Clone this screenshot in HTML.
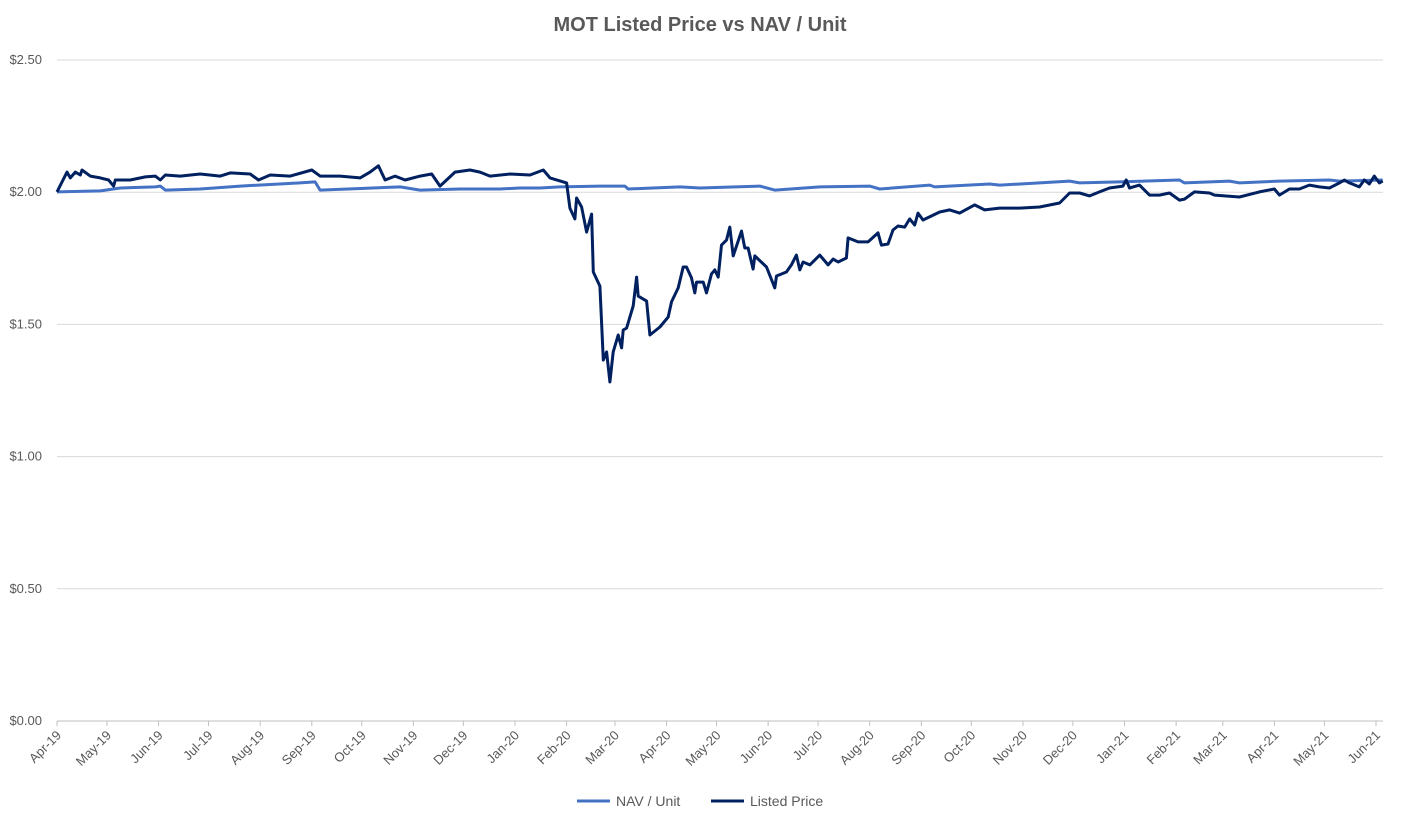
<!DOCTYPE html>
<html><head><meta charset="utf-8"><style>
body{margin:0;background:#fff;}
svg{display:block;font-family:"Liberation Sans",sans-serif;}
</style></head><body>
<svg id="chart" width="1403" height="819">
<text x="700" y="31" text-anchor="middle" font-size="20" font-weight="bold" fill="#595959">MOT Listed Price vs NAV / Unit</text>
<g id="grid"></g><g id="xaxis"></g><g id="series"></g>
<g>
<line x1="577" y1="801" x2="610" y2="801" stroke="#4472C4" stroke-width="3"/>
<text x="616" y="806" font-size="14" fill="#595959">NAV / Unit</text>
<line x1="711" y1="801" x2="744" y2="801" stroke="#002060" stroke-width="3"/>
<text x="750" y="806" font-size="14" fill="#595959">Listed Price</text>
</g>
</svg>
<script>
const yTicks=[0,0.5,1,1.5,2,2.5];
const yTickLabels=["$0.00","$0.50","$1.00","$1.50","$2.00","$2.50"];
const monthLabels=["Apr-19","May-19","Jun-19","Jul-19","Aug-19","Sep-19","Oct-19","Nov-19","Dec-19","Jan-20","Feb-20","Mar-20","Apr-20","May-20","Jun-20","Jul-20","Aug-20","Sep-20","Oct-20","Nov-20","Dec-20","Jan-21","Feb-21","Mar-21","Apr-21","May-21","Jun-21"];
// day offsets from 1 Apr 2019
const listedDays=[0,6,8,11,14,15,20,26,31,34,35,44,53,59,62,65,74,86,98,104,116,121,128,140,153,158,170,182,188,193,197,203,209,218,225,230,239,248,254,260,272,284,292,296,306,308,311,312,315,318,321,322,326,328,330,332,334,337,339,340,342,346,348,349,354,356,362,367,369,373,376,378,381,383,384,388,390,393,395,397,399,402,404,406,411,413,415,418,419,426,431,432,438,441,444,446,448,452,458,463,466,469,474,475,481,487,493,495,499,502,505,509,512,515,517,520,530,536,542,551,557,566,578,590,602,608,614,620,626,632,640,642,644,650,656,662,668,674,677,683,692,695,710,722,731,734,740,746,752,758,764,770,773,776,782,785,788,791,794,796];
const listedValues=[2.001,2.076,2.054,2.076,2.065,2.084,2.061,2.054,2.046,2.023,2.046,2.046,2.058,2.061,2.046,2.065,2.061,2.069,2.061,2.073,2.069,2.046,2.065,2.061,2.084,2.061,2.061,2.054,2.076,2.100,2.046,2.061,2.046,2.061,2.069,2.023,2.076,2.084,2.076,2.061,2.069,2.065,2.084,2.054,2.035,1.940,1.899,1.978,1.944,1.849,1.917,1.698,1.645,1.365,1.396,1.282,1.396,1.460,1.411,1.479,1.486,1.570,1.679,1.607,1.588,1.460,1.490,1.528,1.585,1.638,1.717,1.717,1.676,1.619,1.660,1.660,1.619,1.691,1.706,1.679,1.800,1.819,1.868,1.759,1.853,1.789,1.789,1.709,1.759,1.717,1.638,1.683,1.698,1.725,1.762,1.706,1.736,1.725,1.762,1.725,1.747,1.736,1.751,1.827,1.812,1.812,1.846,1.800,1.804,1.857,1.872,1.868,1.899,1.876,1.921,1.895,1.925,1.933,1.921,1.952,1.933,1.940,1.940,1.944,1.959,1.997,1.997,1.986,2.001,2.016,2.023,2.046,2.016,2.027,1.989,1.989,1.997,1.970,1.974,2.001,1.997,1.989,1.982,2.001,2.012,1.989,2.012,2.012,2.027,2.020,2.016,2.035,2.046,2.035,2.020,2.046,2.031,2.061,2.035,2.042];
const navDays=[0,26,38,59,62,65,86,110,146,155,158,206,218,242,266,278,290,302,326,341,343,374,386,422,431,458,488,494,524,527,560,566,590,608,614,638,674,677,704,710,734,764,770,796];
const navValues=[2.001,2.005,2.016,2.020,2.023,2.008,2.012,2.023,2.035,2.039,2.008,2.020,2.008,2.012,2.012,2.016,2.016,2.020,2.023,2.023,2.012,2.020,2.016,2.023,2.008,2.020,2.023,2.012,2.027,2.020,2.031,2.027,2.035,2.042,2.035,2.039,2.046,2.035,2.042,2.035,2.042,2.046,2.042,2.046];

const NS="http://www.w3.org/2000/svg";
const X0=57,X1=1383,Y0=721,Ytop=60,pxDay=1319/792;
const xs=d=>X0+d*pxDay;
const ys=v=>Y0-(v/2.5)*(Y0-Ytop);
function mk(tag,attrs,parent){const e=document.createElementNS(NS,tag);for(const k in attrs)e.setAttribute(k,attrs[k]);parent.appendChild(e);return e;}
const grid=document.getElementById('grid'),xa=document.getElementById('xaxis'),ser=document.getElementById('series');
yTicks.forEach((v,i)=>{
  const l=mk('line',{x1:X0,x2:X1,y1:ys(v),y2:ys(v),stroke:i==0?'#bfbfbf':'#d9d9d9','stroke-width':1},grid);
  
  
  const t=mk('text',{x:42,y:ys(v)+4,'text-anchor':'end','font-size':13,fill:'#595959'},grid);
  t.textContent=yTickLabels[i];
  
  
});
const start=Date.UTC(2019,3,1);
monthLabels.forEach((lab,i)=>{
  const d=(Date.UTC(2019,3+i,1)-start)/86400000;
  const x=xs(d);
  const tk=mk('line',{x1:x,x2:x,y1:Y0,y2:Y0+5,stroke:'#bfbfbf'},xa);
  
  
  const t=mk('text',{x:x+5,y:Y0+15,'text-anchor':'end','font-size':13,fill:'#595959',transform:`rotate(-45 ${x+5} ${Y0+15})`},xa);
  t.textContent=lab;
  
  
});
function line(days,vals,color,name){
  const p=mk('polyline',{points:days.map((d,i)=>xs(d).toFixed(1)+','+ys(vals[i]).toFixed(1)).join(' '),fill:'none',stroke:color,'stroke-width':3,'stroke-linejoin':'round'},ser);
  
  
}
line(navDays,navValues,'#4472C4','nav-unit-line');
line(listedDays,listedValues,'#002060','listed-price-line');
</script>
</body></html>
